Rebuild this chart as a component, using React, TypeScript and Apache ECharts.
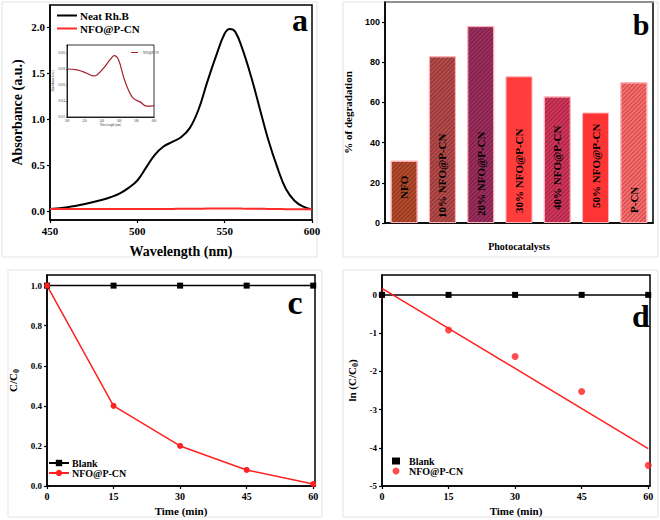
import React, { useEffect, useRef } from 'react';
import * as echarts from 'echarts';

// Panel a: UV-vis spectra
const wavelengthA = [450, 460, 470, 480, 485, 490, 495, 500, 505, 510, 515, 520, 525, 530, 535, 540, 545, 550, 553, 556, 560, 565, 570, 575, 580, 585, 590, 595, 600];
const neatRhB = [0.02, 0.04, 0.075, 0.12, 0.15, 0.19, 0.25, 0.33, 0.47, 0.61, 0.70, 0.75, 0.80, 0.90, 1.10, 1.40, 1.68, 1.93, 1.98, 1.95, 1.77, 1.47, 1.12, 0.77, 0.48, 0.24, 0.11, 0.045, 0.015];
const nfoAbsA = [0.02, 0.02, 0.02, 0.02, 0.02, 0.02, 0.02, 0.02, 0.02, 0.021, 0.021, 0.021, 0.022, 0.022, 0.023, 0.024, 0.025, 0.025, 0.025, 0.025, 0.024, 0.023, 0.022, 0.021, 0.02, 0.018, 0.017, 0.016, 0.016];
const yTicksA = [0, 0.5, 1.0, 1.5, 2.0];
const xTicksA = [450, 500, 550, 600];

// Inset
const wavelengthInset = [500, 511.5, 522.9, 529.8, 534.4, 542, 549.6, 554.2, 559.2, 564.9, 570.6, 576.3, 584, 591.6, 597.3, 600];
const nfoInset = [0.0180, 0.0179, 0.01747, 0.01714, 0.01726, 0.01811, 0.01916, 0.01966, 0.01916, 0.01705, 0.01537, 0.01432, 0.01389, 0.01335, 0.01335, 0.01347];

// Panel b: degradation
const catalysts = ['NFO', '10% NFO@P-CN', '20% NFO@P-CN', '30% NFO@P-CN', '40% NFO@P-CN', '50% NFO@P-CN', 'P-CN'];
const degradation = [31, 83, 98, 73, 63, 55, 70];
const barColors = ['#b84a2c', '#b84a4a', '#9e2d5e', '#ff3d3d', '#d4345a', '#ff3535', '#ff6b6b'];
const barHatched = [true, true, true, false, true, false, true];
const labelOffsets = [24, 5, 7, 10, 13, 15, 10];
const yTicksB = [0, 20, 40, 60, 80, 100];

// Panels c, d: kinetics
const timeMin = [0, 15, 30, 45, 60];
const blankC = [1, 1, 1, 1, 1];
const nfoC = [1.0, 0.4, 0.2, 0.08, 0.01];
const yTicksC = [0, 0.2, 0.4, 0.6, 0.8, 1.0];
const blankLn = [0, 0, 0, 0, 0];
const nfoLn = [0, -0.92, -1.61, -2.53, -4.46];
const fitTime = [0, 60];
const fitLn = [0.17, -4.02];
const yTicksD = [-5, -4, -3, -2, -1, 0];

const SERIF = '"Liberation Serif", "Times New Roman", serif';
const SANS = '"Liberation Sans", Arial, sans-serif';

const pairs = (xs: number[], ys: number[]) => xs.map((x, i) => [x, ys[i]]);

function axisBase(extra: any = {}) {
  return {
    splitLine: { show: false },
    axisLine: { show: true, onZero: false, lineStyle: { color: '#000', width: 1.5 } },
    axisTick: { show: true, length: 3, inside: false, lineStyle: { color: '#000', width: 1.2 } },
    axisLabel: { color: '#000', fontFamily: SERIF, fontWeight: 'bold', fontSize: 10, margin: 5 },
    nameTextStyle: { color: '#000', fontFamily: SERIF, fontWeight: 'bold', fontSize: 11 },
    nameLocation: 'middle',
    ...extra,
  };
}

export default function App() {
  const ref = useRef<HTMLDivElement>(null);
  useEffect(() => {
    if (!ref.current) return;
    const chart = echarts.init(ref.current, undefined, { renderer: 'svg' });

    const grids = [
      { left: 50, top: 5, width: 262, height: 215 },
      { left: 67, top: 45, width: 87, height: 72 },
      { left: 385, top: 2, width: 268, height: 221 },
      { left: 47, top: 275, width: 268, height: 211 },
      { left: 382, top: 275, width: 268, height: 211 },
    ].map((g) => ({ ...g, show: true, borderColor: '#000', borderWidth: 1.5, backgroundColor: 'transparent', containLabel: false }));
    grids[1].borderWidth = 0.8;

    const timeAxis = (gi: number) => ({
      ...axisBase(),
      gridIndex: gi,
      type: 'value',
      min: 0,
      max: 60.4,
      name: 'Time (min)',
      nameGap: 19,
      axisLabel: { ...axisBase().axisLabel, customValues: timeMin },
      axisTick: { ...axisBase().axisTick, customValues: timeMin },
    });

    const option: any = {
      animation: false,
      backgroundColor: '#fff',
      grid: grids,
      xAxis: [
        {
          ...axisBase(),
          gridIndex: 0,
          type: 'value',
          min: 450,
          max: 600,
          name: 'Wavelength (nm)',
          nameGap: 24,
          nameTextStyle: { color: '#000', fontFamily: SERIF, fontWeight: 'bold', fontSize: 14 },
          axisLabel: { ...axisBase().axisLabel, fontSize: 11, customValues: xTicksA },
          axisTick: { ...axisBase().axisTick, customValues: xTicksA },
        },
        {
          ...axisBase(),
          gridIndex: 1,
          type: 'value',
          min: 500,
          max: 600,
          interval: 20,
          name: 'Wavelength (nm)',
          nameGap: 6,
          nameTextStyle: { color: '#333', fontFamily: SERIF, fontSize: 3 },
          axisLine: { show: true, onZero: false, lineStyle: { color: '#000', width: 0.8 } },
          axisTick: { show: true, length: 1, lineStyle: { color: '#000', width: 0.5 } },
          axisLabel: { color: '#333', fontFamily: SERIF, fontSize: 3, margin: 2 },
        },
        {
          ...axisBase(),
          gridIndex: 2,
          type: 'category',
          data: catalysts,
          name: 'Photocatalysts',
          nameGap: 18,
          nameTextStyle: { color: '#000', fontFamily: SERIF, fontWeight: 'bold', fontSize: 10 },
          axisTick: { show: false },
          axisLabel: { show: false },
        },
        timeAxis(3),
        timeAxis(4),
      ],
      yAxis: [
        {
          ...axisBase(),
          gridIndex: 0,
          type: 'value',
          min: -0.1,
          max: 2.24,
          name: 'Absorbance (a.u.)',
          nameGap: 26,
          nameTextStyle: { color: '#000', fontFamily: SERIF, fontWeight: 'bold', fontSize: 14 },
          axisLabel: { ...axisBase().axisLabel, fontSize: 11, customValues: yTicksA, formatter: (v: number) => v.toFixed(1) },
          axisTick: { ...axisBase().axisTick, customValues: yTicksA },
        },
        {
          ...axisBase(),
          gridIndex: 1,
          type: 'value',
          min: 0.012,
          max: 0.021,
          interval: 0.002,
          name: 'Absorbance (a.u.)',
          nameGap: 10,
          nameTextStyle: { color: '#333', fontFamily: SERIF, fontSize: 3 },
          axisLine: { show: true, onZero: false, lineStyle: { color: '#000', width: 0.8 } },
          axisTick: { show: true, length: 1, lineStyle: { color: '#000', width: 0.5 } },
          axisLabel: { color: '#333', fontFamily: SERIF, fontSize: 3, margin: 2, formatter: (v: number) => (Math.abs(v * 1000 - Math.round(v * 1000)) < 1e-6 && Math.round(v * 1000) % 2 === 0 ? v.toFixed(3) : '') },
        },
        {
          ...axisBase(),
          gridIndex: 2,
          type: 'value',
          min: 0,
          max: 110,
          name: '% of degradation',
          nameGap: 32,
          axisLabel: { color: '#000', fontFamily: SANS, fontWeight: 'bold', fontSize: 9, margin: 5, customValues: yTicksB },
          axisTick: { ...axisBase().axisTick, customValues: yTicksB },
        },
        {
          ...axisBase(),
          gridIndex: 3,
          type: 'value',
          min: 0,
          max: 1.053,
          name: '{n|C/C}{s|0}',
          nameGap: 27,
          nameTextStyle: {
            rich: {
              n: { color: '#000', fontFamily: SERIF, fontWeight: 'bold', fontSize: 11 },
              s: { color: '#000', fontFamily: SERIF, fontWeight: 'bold', fontSize: 8, padding: [7, 0, 0, 0] },
            },
          },
          axisLabel: { ...axisBase().axisLabel, fontSize: 9, customValues: yTicksC, formatter: (v: number) => v.toFixed(1) },
          axisTick: { ...axisBase().axisTick, customValues: yTicksC },
        },
        {
          ...axisBase(),
          gridIndex: 4,
          type: 'value',
          min: -5,
          max: 0.52,
          name: '{n|ln (C/C}{s|0}{n|)}',
          nameGap: 23,
          nameTextStyle: {
            rich: {
              n: { color: '#000', fontFamily: SERIF, fontWeight: 'bold', fontSize: 11 },
              s: { color: '#000', fontFamily: SERIF, fontWeight: 'bold', fontSize: 8, padding: [7, 0, 0, 0] },
            },
          },
          axisLabel: { ...axisBase().axisLabel, fontSize: 9, customValues: yTicksD },
          axisTick: { ...axisBase().axisTick, customValues: yTicksD },
        },
      ],
      legend: [
        {
          left: 52, top: 5, orient: 'vertical', itemGap: 2, itemWidth: 20, itemHeight: 2,
          data: [{ name: 'a:Neat Rh.B', icon: 'rect' }, { name: 'a:NFO@P-CN', icon: 'rect' }],
          formatter: (n: string) => n.slice(2),
          textStyle: { color: '#000', fontFamily: SERIF, fontWeight: 'bold', fontSize: 11, padding: [0, 0, 0, -2] },
          selectedMode: false,
        },
        {
          left: 126, top: 46, orient: 'vertical', itemWidth: 7, itemHeight: 1,
          data: [{ name: 'i:NFO@P-CN', icon: 'rect' }],
          formatter: (n: string) => n.slice(2),
          textStyle: { color: '#333', fontFamily: SERIF, fontSize: 3 },
          selectedMode: false,
        },
        {
          left: 43, top: 453, orient: 'vertical', itemGap: 0, itemWidth: 20, itemHeight: 8,
          data: ['c:Blank', 'c:NFO@P-CN'],
          formatter: (n: string) => n.slice(2),
          textStyle: { color: '#000', fontFamily: SERIF, fontWeight: 'bold', fontSize: 10, padding: [0, 0, 0, -2] },
          selectedMode: false,
        },
        {
          left: 387, top: 451, orient: 'vertical', itemGap: 0, itemWidth: 8, itemHeight: 7,
          data: [{ name: 'd:Blank', icon: 'rect' }, { name: 'd:NFO@P-CN', icon: 'circle' }],
          formatter: (n: string) => n.slice(2),
          textStyle: { color: '#000', fontFamily: SERIF, fontWeight: 'bold', fontSize: 10, padding: [0, 0, 0, 4] },
          selectedMode: false,
        },
      ],
      series: [
        {
          name: 'a:Neat Rh.B', type: 'line', xAxisIndex: 0, yAxisIndex: 0,
          data: pairs(wavelengthA, neatRhB), symbol: 'none', smooth: 0.4,
          color: '#000', lineStyle: { color: '#000', width: 2 },
        },
        {
          name: 'a:NFO@P-CN', type: 'line', xAxisIndex: 0, yAxisIndex: 0,
          data: pairs(wavelengthA, nfoAbsA), symbol: 'none', smooth: 0.4,
          color: '#ff2a2a', lineStyle: { color: '#ff2a2a', width: 2 },
        },
        {
          name: 'i:NFO@P-CN', type: 'line', xAxisIndex: 1, yAxisIndex: 1,
          data: pairs(wavelengthInset, nfoInset), symbol: 'none', smooth: 0.4,
          color: '#a3202e', lineStyle: { color: '#a3202e', width: 1.2 },
        },
        {
          name: 'degradation', type: 'bar', xAxisIndex: 2, yAxisIndex: 2,
          barWidth: 27,
          data: degradation.map((v, i) => ({
            value: v,
            itemStyle: {
              color: barColors[i],
              borderColor: '#ffb3b8',
              borderWidth: 1,
              decal: barHatched[i]
                ? { symbol: 'rect', symbolSize: 1, dashArrayX: [1, 0], dashArrayY: [1, 2], rotation: -Math.PI / 4, color: 'rgba(0,0,0,0.28)' }
                : 'none',
            },
            label: { distance: labelOffsets[i] },
          })),
          label: {
            show: true,
            position: 'insideBottom',
            rotate: 90,
            align: 'left',
            verticalAlign: 'middle',
            formatter: (p: any) => catalysts[p.dataIndex],
            color: '#000',
            fontFamily: SERIF,
            fontWeight: 'bold',
            fontSize: 11,
          },
        },
        {
          name: 'c:Blank', type: 'line', xAxisIndex: 3, yAxisIndex: 3,
          data: pairs(timeMin, blankC), symbol: 'rect', symbolSize: 6,
          color: '#000', lineStyle: { color: '#000', width: 1.5 },
        },
        {
          name: 'c:NFO@P-CN', type: 'line', xAxisIndex: 3, yAxisIndex: 3,
          data: pairs(timeMin, nfoC), symbol: 'circle', symbolSize: 6,
          color: '#ff2020', lineStyle: { color: '#ff2020', width: 1.5 },
        },
        {
          name: 'd:Blank', type: 'line', xAxisIndex: 4, yAxisIndex: 4,
          data: pairs(timeMin, blankLn), symbol: 'rect', symbolSize: 6,
          color: '#000', lineStyle: { color: '#000', width: 1.5 },
        },
        {
          name: 'd:NFO@P-CN', type: 'scatter', xAxisIndex: 4, yAxisIndex: 4,
          data: pairs(timeMin, nfoLn), symbol: 'circle', symbolSize: 7,
          color: '#ff2020',
        },
        {
          name: 'd:fit', type: 'line', xAxisIndex: 4, yAxisIndex: 4,
          data: pairs(fitTime, fitLn), symbol: 'none', silent: true,
          color: '#ff2020', lineStyle: { color: '#ff2020', width: 1.5 },
        },
      ],
      graphic: [
        { type: 'rect', shape: { x: 2, y: 2, width: 315, height: 255 }, style: { fill: 'none', stroke: '#e3e3e3', lineWidth: 1 }, silent: true },
        { type: 'rect', shape: { x: 343, y: 2, width: 315, height: 255 }, style: { fill: 'none', stroke: '#e3e3e3', lineWidth: 1 }, silent: true },
        { type: 'rect', shape: { x: 8, y: 270, width: 314, height: 247 }, style: { fill: 'none', stroke: '#e3e3e3', lineWidth: 1 }, silent: true },
        { type: 'rect', shape: { x: 343, y: 270, width: 315, height: 247 }, style: { fill: 'none', stroke: '#e3e3e3', lineWidth: 1 }, silent: true },
        { type: 'text', x: 300, y: 20, style: { text: 'a', font: `bold 32px ${SERIF}`, fill: '#000', align: 'center', verticalAlign: 'middle' } },
        { type: 'text', x: 641, y: 24, style: { text: 'b', font: `bold 30px ${SERIF}`, fill: '#000', align: 'center', verticalAlign: 'middle' } },
        { type: 'text', x: 295, y: 302, style: { text: 'c', font: `bold 34px ${SERIF}`, fill: '#000', align: 'center', verticalAlign: 'middle' } },
        { type: 'text', x: 641, y: 316, style: { text: 'd', font: `bold 32px ${SERIF}`, fill: '#000', align: 'center', verticalAlign: 'middle' } },
      ],
    };

    chart.setOption(option);
    return () => chart.dispose();
  }, []);
  return <div ref={ref} style={{ position: 'absolute', left: 0, top: 0, width: 660, height: 520, background: '#fff' }} />;
}
